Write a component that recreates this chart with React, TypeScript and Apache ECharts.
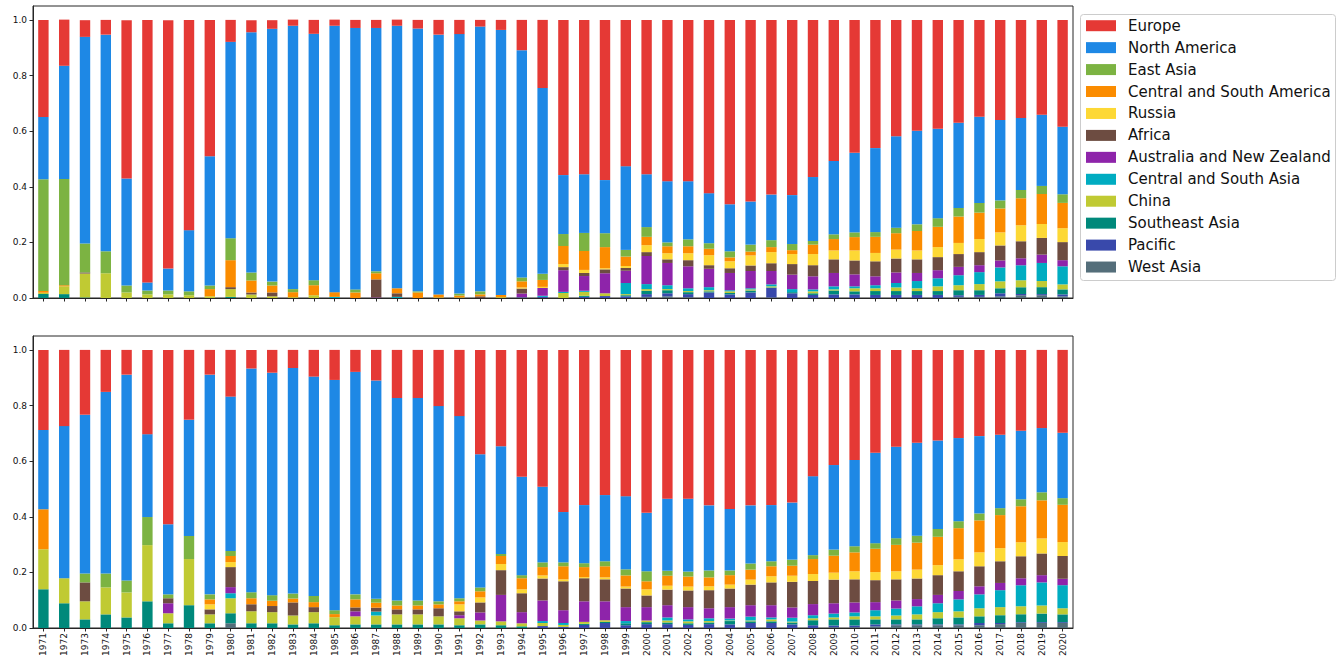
import React, { useEffect, useRef } from "react";
import * as echarts from "echarts";

const years = [
  "1971","1972","1973","1974","1975","1976","1977","1978","1979","1980",
  "1981","1982","1983","1984","1985","1986","1987","1988","1989","1990",
  "1991","1992","1993","1994","1995","1996","1997","1998","1999","2000",
  "2001","2002","2003","2004","2005","2006","2007","2008","2009","2010",
  "2011","2012","2013","2014","2015","2016","2017","2018","2019","2020",
];

const yTicks = [0, 0.2, 0.4, 0.6, 0.8, 1.0];

// ---------- Top panel (shares) ----------
const tWestAsia = [
  0,0,0,0,0,0,0,0,0,0,
  0,0,0,0,0,0,0,0,0,0,
  0,0,0,0,0,0,0,0,0,0.004,
  0.006,0.003,0,0,0,0.002,0,0,0,0,
  0,0,0,0,0.004,0.004,0.006,0.01,0.01,0.006,
];
const tPacific = [
  0,0,0,0,0,0,0,0,0,0,
  0,0,0,0,0,0,0,0,0,0,
  0,0,0,0,0.004,0,0.004,0.007,0.006,0.01,
  0.011,0.011,0.02,0.013,0.02,0.034,0.017,0.011,0.013,0.013,
  0.011,0.011,0.011,0.011,0.006,0.007,0.011,0.004,0.004,0.007,
];
const tSoutheastAsia = [
  0.014,0.014,0.002,0,0,0,0,0,0,0.004,
  0,0,0,0,0,0,0,0,0,0,
  0,0,0,0.002,0,0,0.004,0,0.004,0.012,
  0.011,0.007,0.004,0.005,0.007,0.002,0.004,0.006,0.014,0.011,
  0.014,0.014,0.014,0.014,0.018,0.017,0.018,0.025,0.025,0.018,
];
const tChina = [
  0.005,0.028,0.086,0.089,0.02,0.013,0.013,0.01,0.006,0.028,
  0.013,0.006,0.003,0.01,0,0,0,0,0,0.002,
  0.002,0,0.003,0,0,0.018,0.014,0.01,0.004,0.006,
  0.004,0.004,0.004,0.006,0.004,0.004,0,0.007,0.004,0.011,
  0.01,0.013,0.01,0.017,0.018,0.022,0.025,0.025,0.022,0.018,
];
const tCentralSouthAsia = [
  0,0,0,0,0,0,0,0,0,0,
  0,0,0,0,0.004,0,0,0.004,0,0,
  0,0,0,0,0.004,0.004,0.004,0,0.04,0.018,
  0.014,0.01,0.011,0.004,0.004,0.007,0.011,0.007,0.011,0.007,
  0.011,0.016,0.026,0.029,0.036,0.043,0.05,0.054,0.065,0.065,
];
const tAustraliaNZ = [
  0,0,0,0,0,0,0,0,0,0,
  0,0,0,0,0,0,0.002,0,0,0,
  0,0,0,0.014,0.028,0.078,0.053,0.072,0.044,0.101,
  0.08,0.079,0.066,0.062,0.062,0.048,0.052,0.047,0.048,0.043,
  0.032,0.038,0.029,0.029,0.03,0.025,0.025,0.025,0.03,0.022,
];
const tAfrica = [
  0,0,0.004,0,0,0,0,0,0,0.007,
  0.007,0.014,0,0,0,0,0.065,0.013,0,0,
  0,0.006,0,0.018,0,0.011,0.011,0.014,0.01,0.014,
  0.013,0.022,0.013,0.017,0.02,0.028,0.038,0.04,0.049,0.05,
  0.054,0.05,0.049,0.047,0.046,0.047,0.054,0.061,0.06,0.065,
];
const tRussia = [
  0,0,0,0,0,0,0,0,0,0,
  0,0,0,0,0,0,0,0,0,0,
  0,0,0,0.004,0.004,0.011,0.011,0.004,0.007,0.025,
  0.022,0.025,0.036,0.025,0.036,0.04,0.036,0.04,0.032,0.036,
  0.03,0.032,0.032,0.036,0.04,0.047,0.047,0.058,0.05,0.05,
];
const tCentralSouthAmerica = [
  0.006,0.004,0,0,0,0,0,0,0.026,0.097,
  0.043,0.025,0.018,0.036,0.017,0.02,0.022,0.018,0.02,0.011,
  0.007,0.007,0.008,0.022,0.025,0.065,0.068,0.076,0.034,0.03,
  0.025,0.025,0.023,0.014,0.014,0.018,0.014,0.034,0.041,0.048,
  0.058,0.059,0.07,0.073,0.095,0.095,0.086,0.097,0.108,0.091,
];
const tEastAsia = [
  0.402,0.382,0.104,0.079,0.025,0.014,0.014,0.014,0.013,0.079,
  0.029,0.014,0.011,0.018,0,0.011,0.007,0,0.004,0,
  0.007,0.011,0,0.014,0.022,0.043,0.065,0.05,0.024,0.035,
  0.014,0.025,0.02,0.022,0.025,0.025,0.022,0.013,0.017,0.017,
  0.017,0.02,0.024,0.031,0.031,0.035,0.029,0.029,0.029,0.031,
];
const tNorthAmerica = [
  0.224,0.407,0.743,0.779,0.385,0.029,0.079,0.22,0.465,0.706,
  0.864,0.909,0.947,0.886,0.958,0.94,0.875,0.944,0.945,0.934,
  0.933,0.952,0.953,0.817,0.668,0.212,0.211,0.191,0.301,0.19,
  0.22,0.209,0.18,0.169,0.155,0.164,0.176,0.23,0.264,0.286,
  0.302,0.329,0.336,0.322,0.306,0.31,0.289,0.259,0.256,0.243,
];
const tEurope = [
  0.349,0.166,0.06,0.053,0.569,0.944,0.893,0.756,0.49,0.079,
  0.043,0.031,0.022,0.05,0.022,0.029,0.029,0.022,0.031,0.053,
  0.051,0.024,0.036,0.109,0.245,0.558,0.555,0.576,0.526,0.555,
  0.58,0.58,0.623,0.663,0.653,0.628,0.63,0.565,0.507,0.478,
  0.461,0.418,0.399,0.391,0.37,0.348,0.36,0.353,0.341,0.384,
];

// ---------- Bottom panel (shares) ----------
const bWestAsia = [
  0,0,0,0,0,0,0,0,0,0.017,
  0,0,0,0,0,0,0,0,0,0,
  0,0,0,0,0,0,0,0,0,0,
  0,0,0,0,0,0,0,0,0.003,0.003,
  0.006,0.01,0.01,0.01,0.01,0.01,0.014,0.018,0.018,0.018,
];
const bPacific = [
  0,0,0,0,0,0,0,0,0,0,
  0,0,0,0,0,0,0,0,0,0,
  0,0,0,0,0.007,0.004,0.011,0.018,0.01,0.014,
  0.014,0.011,0.014,0.013,0.018,0.018,0.013,0.01,0.006,0.006,
  0.007,0.003,0.003,0.003,0.003,0.008,0.004,0.003,0.003,0.003,
];
const bSoutheastAsia = [
  0.139,0.089,0.031,0.049,0.038,0.096,0.017,0.082,0.017,0.036,
  0.017,0.017,0.013,0.017,0.01,0.013,0.013,0.013,0.013,0.013,
  0.01,0.013,0.01,0.006,0,0,0.004,0.004,0.007,0.007,
  0.006,0.006,0.006,0.012,0.006,0.006,0.007,0.018,0.022,0.022,
  0.018,0.018,0.018,0.022,0.025,0.024,0.028,0.028,0.031,0.028,
];
const bChina = [
  0.144,0.09,0.065,0.097,0.09,0.202,0.036,0.166,0.032,0.054,
  0.043,0.04,0.032,0.04,0.029,0.029,0.032,0.036,0.036,0.029,
  0.025,0.014,0.014,0.011,0.011,0.007,0.007,0.006,0,0.006,
  0.007,0.007,0.005,0.002,0.003,0.007,0.003,0.007,0.007,0.011,
  0.011,0.014,0.018,0.022,0.022,0.029,0.029,0.029,0.029,0.022,
];
const bCentralSouthAsia = [
  0,0,0,0,0,0,0,0,0,0.018,
  0,0,0,0,0,0,0.014,0,0,0,
  0,0,0,0,0.007,0.007,0,0,0.008,0,
  0.011,0.007,0.01,0.007,0.014,0.007,0.014,0.011,0.014,0.014,
  0.022,0.025,0.029,0.032,0.043,0.05,0.061,0.076,0.083,0.083,
];
const bAustraliaNZ = [
  0,0,0,0,0,0,0.036,0,0,0.022,
  0,0,0,0,0,0.018,0,0,0,0,
  0.011,0.029,0.095,0.04,0.074,0.046,0.074,0.068,0.05,0.048,
  0.044,0.044,0.036,0.041,0.041,0.044,0.037,0.04,0.037,0.036,
  0.029,0.029,0.026,0.03,0.03,0.029,0.026,0.025,0.026,0.023,
];
const bAfrica = [
  0,0,0.068,0,0,0,0.018,0,0.018,0.072,
  0.025,0.022,0.047,0.018,0,0.014,0.014,0.018,0.018,0.029,
  0.014,0.036,0.089,0.068,0.079,0.104,0.083,0.079,0.067,0.042,
  0.056,0.06,0.065,0.067,0.074,0.082,0.092,0.083,0.085,0.083,
  0.079,0.076,0.074,0.071,0.071,0.072,0.078,0.079,0.078,0.082,
];
const bRussia = [
  0,0,0,0,0,0,0,0,0.018,0.018,
  0,0,0,0,0,0,0,0,0,0,
  0.025,0.018,0.022,0.014,0.011,0.007,0.004,0.007,0.007,0.022,
  0.014,0.014,0.014,0.014,0.018,0.022,0.022,0.025,0.025,0.029,
  0.029,0.029,0.032,0.036,0.043,0.05,0.047,0.05,0.054,0.05,
];
const bCentralSouthAmerica = [
  0.144,0,0,0,0,0,0,0,0.018,0.022,
  0.022,0.019,0.014,0.018,0.011,0.029,0.018,0.014,0.014,0.014,
  0.011,0.022,0.029,0.04,0.03,0.047,0.036,0.04,0.04,0.029,
  0.036,0.036,0.032,0.034,0.036,0.036,0.036,0.054,0.061,0.068,
  0.084,0.095,0.097,0.102,0.112,0.115,0.119,0.13,0.137,0.134,
];
const bEastAsia = [
  0,0,0.032,0.05,0.043,0.101,0.014,0.083,0.018,0.018,
  0.022,0.02,0.018,0.022,0.014,0.018,0.014,0.018,0.018,0.011,
  0.011,0.014,0.007,0.011,0.017,0.014,0.014,0.018,0.022,0.036,
  0.018,0.018,0.025,0.017,0.022,0.018,0.022,0.014,0.022,0.022,
  0.02,0.024,0.025,0.028,0.025,0.025,0.025,0.025,0.029,0.024,
];
const bNorthAmerica = [
  0.285,0.547,0.571,0.653,0.74,0.298,0.252,0.418,0.79,0.555,
  0.804,0.8,0.811,0.789,0.828,0.8,0.785,0.728,0.728,0.702,
  0.655,0.479,0.388,0.354,0.272,0.181,0.209,0.238,0.263,0.21,
  0.259,0.262,0.234,0.221,0.209,0.202,0.205,0.284,0.304,0.31,
  0.325,0.329,0.334,0.318,0.299,0.278,0.264,0.246,0.231,0.235,
];
const bEurope = [
  0.288,0.274,0.233,0.151,0.089,0.303,0.627,0.251,0.089,0.168,
  0.067,0.082,0.065,0.096,0.108,0.079,0.11,0.173,0.173,0.202,
  0.238,0.375,0.346,0.456,0.492,0.583,0.558,0.522,0.526,0.586,
  0.535,0.535,0.559,0.572,0.559,0.558,0.549,0.454,0.414,0.396,
  0.37,0.348,0.334,0.326,0.317,0.31,0.305,0.291,0.281,0.298,
];

// Stack order: bottom -> top
const regionNames = [
  "West Asia", "Pacific", "Southeast Asia", "China", "Central and South Asia",
  "Australia and New Zealand", "Africa", "Russia", "Central and South America",
  "East Asia", "North America", "Europe",
];
const regionColors = [
  "#546e7a", "#3949ab", "#00897b", "#c0ca33", "#00acc1",
  "#8e24aa", "#6d4c41", "#fdd835", "#fb8c00",
  "#7cb342", "#1e88e5", "#e53935",
];
const topData = [
  tWestAsia, tPacific, tSoutheastAsia, tChina, tCentralSouthAsia,
  tAustraliaNZ, tAfrica, tRussia, tCentralSouthAmerica,
  tEastAsia, tNorthAmerica, tEurope,
];
const bottomData = [
  bWestAsia, bPacific, bSoutheastAsia, bChina, bCentralSouthAsia,
  bAustraliaNZ, bAfrica, bRussia, bCentralSouthAmerica,
  bEastAsia, bNorthAmerica, bEurope,
];

const FONT = "DejaVu Sans";
const AX = "#262626";

function makeXAxis(idx: number, showLabels: boolean) {
  return {
    type: "category",
    gridIndex: idx,
    data: years,
    boundaryGap: true,
    axisLine: { show: true, lineStyle: { color: AX, width: 1 } },
    axisTick: { show: true, alignWithLabel: true, length: 3.5, lineStyle: { color: AX, width: 1 } },
    axisLabel: {
      show: showLabels,
      rotate: 90,
      interval: 0,
      fontSize: 9,
      fontFamily: FONT,
      color: "#111",
      margin: 5,
    },
    splitLine: { show: false },
  };
}

function makeYAxis(idx: number) {
  return {
    type: "value",
    gridIndex: idx,
    min: 0,
    max: 1.05,
    interval: 0.2,
    axisLine: { show: true, lineStyle: { color: AX, width: 1 } },
    axisTick: { show: true, length: 3.5, lineStyle: { color: AX, width: 1 }, customValues: yTicks },
    axisLabel: {
      fontSize: 9,
      fontFamily: FONT,
      color: "#111",
      margin: 6,
      customValues: yTicks,
      formatter: (v: number) => v.toFixed(1),
    },
    splitLine: { show: false },
  };
}

export default function App() {
  const ref = useRef<HTMLDivElement>(null);

  useEffect(() => {
    document.body.style.margin = "0";
    if (!ref.current) return;
    const chart = echarts.init(ref.current, null, { renderer: "svg" });

    const series: any[] = [];
    [topData, bottomData].forEach((panel, p) => {
      panel.forEach((vals, i) => {
        series.push({
          type: "bar",
          name: regionNames[i],
          stack: "panel" + p,
          xAxisIndex: p,
          yAxisIndex: p,
          data: vals,
          barWidth: "50%",
          itemStyle: { color: regionColors[i] },
          emphasis: { disabled: true },
        });
      });
    });

    chart.setOption({
      animation: false,
      backgroundColor: "#ffffff",
      grid: [
        { left: 33, top: 6, width: 1040, height: 292, show: true, borderColor: AX, borderWidth: 1, backgroundColor: "transparent" },
        { left: 33, top: 336, width: 1040, height: 292, show: true, borderColor: AX, borderWidth: 1, backgroundColor: "transparent" },
      ],
      xAxis: [makeXAxis(0, false), makeXAxis(1, true)],
      yAxis: [makeYAxis(0), makeYAxis(1)],
      legend: {
        data: regionNames.slice().reverse(),
        orient: "vertical",
        left: 1086,
        top: 17.7,
        padding: 0,
        itemWidth: 30,
        itemHeight: 11,
        itemGap: 5.94,
        icon: "rect",
        selectedMode: false,
        textStyle: { fontFamily: FONT, fontSize: 15, color: "#111", lineHeight: 16, padding: [0, 0, 0, 7] },
      },
      graphic: [
        {
          type: "rect",
          z: -1,
          shape: { x: 1080.5, y: 14.5, width: 255, height: 266, r: 3 },
          style: { fill: "rgba(255,255,255,0.8)", stroke: "#cccccc", lineWidth: 1 },
        },
      ],
      tooltip: { show: false },
      series,
    });

    return () => chart.dispose();
  }, []);

  return <div ref={ref} style={{ width: 1342, height: 661, background: "#fff" }} />;
}
